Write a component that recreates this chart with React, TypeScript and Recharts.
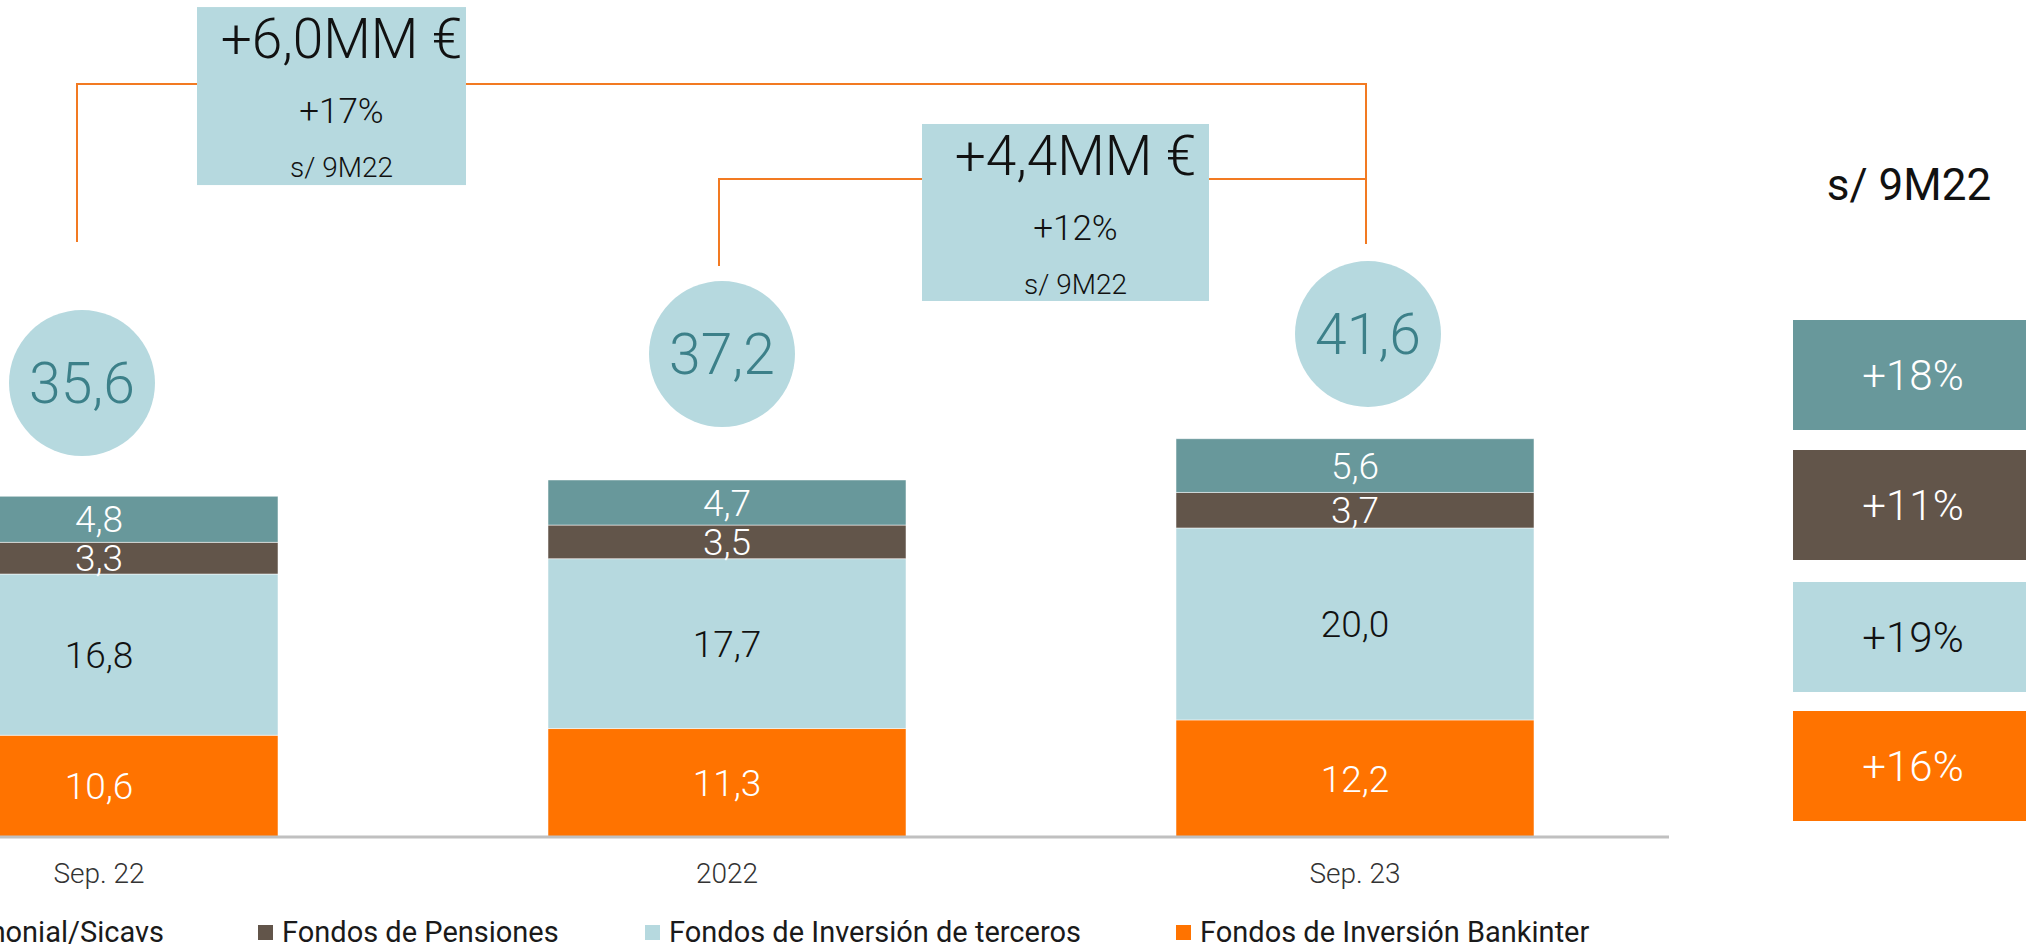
import { BarChart, Bar, XAxis, YAxis, LabelList, ReferenceLine, ReferenceDot } from "recharts"

// Patrimonio en fondos (miles de millones €)
const categories = ["Sep. 22", "2022", "Sep. 23"]
const fondosBankinter = [10.6, 11.3, 12.2]
const fondosTerceros = [16.8, 17.7, 20.0]
const fondosPensiones = [3.3, 3.5, 3.7]
const gestionSicavs = [4.8, 4.7, 5.6]
const totals = [35.6, 37.2, 41.6]

const seriesNames = [
  "Gestión Patrimonial/Sicavs",
  "Fondos de Pensiones",
  "Fondos de Inversión de terceros",
  "Fondos de Inversión Bankinter",
]
// same order as seriesNames (top of the stack first)
const growthLabels = ["+18%", "+11%", "+19%", "+16%"]
const deltaAmounts = ["+6,0MM €", "+4,4MM €"]
const deltaPercents = ["+17%", "+12%"]
const deltaBase = "s/ 9M22"

const TEAL = "#68989b"
const BROWN = "#62554a"
const LIGHT = "#b6d9df"
const ORANGE = "#ff7300"
const LINE = "#f27a22"
const FONT = "Roboto, 'Liberation Sans', Arial, sans-serif"
const WEIGHT = 300
const colors = [TEAL, BROWN, LIGHT, ORANGE]
const textOn = ["#ffffff", "#ffffff", "#111111", "#ffffff"]

const data = categories.map((name, i) => ({
  name,
  bankinter: fondosBankinter[i],
  terceros: fondosTerceros[i],
  pensiones: fondosPensiones[i],
  sicavs: gestionSicavs[i],
}))

const fmt = (v: any) => Number(v).toFixed(1).replace(".", ",")

// annotation layout (y in chart units, nudges in px)
const circleY = [47.3, 50.32, 52.41]
const circleDx = [-17, -5, 13]
const bracketY = [78.45, 68.56]
const bracketFrom = [0, 1]
const RIGHT_DX = 11
const brackets = [
  { leftDx: -22, leftDrop: 158, rightDrop: 160, boxL: 98, boxR: 367, boxTop: -77, boxBottom: 101 },
  { leftDx: -8, leftDrop: 87, rightDrop: 0, boxL: 195, boxR: 482, boxTop: -55, boxBottom: 122 },
]

const legendLeft = [0, 258, 645, 1176]
const panelTop = [320, 450, 582, 711]

function bracketShape(i: number) {
  return (p: any) => {
    const b = brackets[i]
    const x1 = Math.min(p.x1, p.x2)
    const x2 = Math.max(p.x1, p.x2)
    const y = p.y1
    const lx = x1 + b.leftDx
    const rx = x2 + RIGHT_DX
    const bl = x1 + b.boxL
    const br = x1 + b.boxR
    let d = `M${lx},${y + b.leftDrop}V${y}H${bl}M${br},${y}H${rx}`
    if (b.rightDrop) d += `V${y + b.rightDrop}`
    const top = y + b.boxTop
    const cx = (bl + br) / 2 + 10
    return (
      <g>
        <path d={d} fill="none" stroke={LINE} strokeWidth={2} />
        <rect x={bl} y={top} width={br - bl} height={b.boxBottom - b.boxTop} fill={LIGHT} />
        <g fontFamily={FONT} fontWeight={WEIGHT} fill="#111" textAnchor="middle">
          <text x={cx} y={top + 51} fontSize={55}>{deltaAmounts[i]}</text>
          <text x={cx} y={top + 116} fontSize={35}>{deltaPercents[i]}</text>
          <text x={cx} y={top + 170} fontSize={28}>{deltaBase}</text>
        </g>
      </g>
    )
  }
}

function totalShape(i: number) {
  return (p: any) => {
    const cx = p.cx + circleDx[i]
    return (
      <g>
        <circle cx={cx} cy={p.cy} r={73} fill={LIGHT} />
        <text x={cx} y={p.cy + 20} textAnchor="middle" fontSize={57} fontFamily={FONT} fontWeight={WEIGHT} fill="#3c8089">
          {fmt(totals[i])}
        </text>
      </g>
    )
  }
}

const labelStyle = { fontSize: 37, fontFamily: FONT, fontWeight: WEIGHT }

export default function App() {
  return (
    <div style={{ position: "absolute", left: 0, top: 0, width: 2026, height: 949, overflow: "hidden", background: "#fff", fontFamily: FONT, fontWeight: WEIGHT }}>
      <div style={{ position: "absolute", left: -215, top: 0 }}>
        <BarChart width={1884} height={949} data={data} margin={{ top: 2, right: 0, bottom: 52, left: 0 }} barSize={358}>
          <XAxis
            dataKey="name"
            height={60}
            axisLine={{ stroke: "#c0c0c0", strokeWidth: 3 }}
            tickLine={false}
            tickSize={0}
            tickMargin={26}
            interval={0}
            tick={{ fill: "#333", fontSize: 28, fontFamily: FONT, fontWeight: WEIGHT }}
          />
          <YAxis hide domain={[0, 87]} allowDataOverflow />
          <Bar dataKey="bankinter" stackId="a" fill={ORANGE} stroke="#fff" strokeOpacity={0.5} isAnimationActive={false}>
            <LabelList dataKey="bankinter" position="center" fill={textOn[3]} formatter={fmt} {...labelStyle} />
          </Bar>
          <Bar dataKey="terceros" stackId="a" fill={LIGHT} stroke="#fff" strokeOpacity={0.5} isAnimationActive={false}>
            <LabelList dataKey="terceros" position="center" fill={textOn[2]} formatter={fmt} {...labelStyle} />
          </Bar>
          <Bar dataKey="pensiones" stackId="a" fill={BROWN} stroke="#fff" strokeOpacity={0.5} isAnimationActive={false}>
            <LabelList dataKey="pensiones" position="center" fill={textOn[1]} formatter={fmt} {...labelStyle} />
          </Bar>
          <Bar dataKey="sicavs" stackId="a" fill={TEAL} stroke="#fff" strokeOpacity={0.5} isAnimationActive={false}>
            <LabelList dataKey="sicavs" position="center" fill={textOn[0]} formatter={fmt} {...labelStyle} />
          </Bar>

          {deltaAmounts.map((_, i) => (
            <ReferenceLine
              key={"br" + i}
              segment={[
                { x: categories[bracketFrom[i]], y: bracketY[i] },
                { x: categories[2], y: bracketY[i] },
              ]}
              stroke={LINE}
              strokeWidth={2}
              shape={bracketShape(i)}
            />
          ))}

          {totals.map((_, i) => (
            <ReferenceDot
              key={"tot" + i}
              x={categories[i]}
              y={circleY[i]}
              r={73}
              fill={LIGHT}
              stroke="none"
              shape={totalShape(i)}
            />
          ))}
        </BarChart>
      </div>

      {/* variation panel */}
      <div style={{ position: "absolute", left: 1809, top: 163, width: 200, textAlign: "center", fontSize: 44, lineHeight: "44px", fontWeight: 400, color: "#111" }}>
        {deltaBase}
      </div>
      {growthLabels.map((g, i) => (
        <div
          key={g + i}
          style={{
            position: "absolute",
            left: 1793,
            top: panelTop[i],
            width: 240,
            height: 110,
            background: colors[i],
            color: textOn[i],
            fontSize: 42,
            display: "flex",
            alignItems: "center",
            justifyContent: "center",
          }}
        >
          {g}
        </div>
      ))}

      {/* legend */}
      {seriesNames.map((name, i) => (
        <div
          key={name}
          style={{
            position: "absolute",
            top: 917,
            height: 30,
            display: "flex",
            alignItems: "center",
            whiteSpace: "nowrap",
            fontSize: 29,
            lineHeight: "30px",
            fontWeight: 400,
            color: "#1a1a1a",
            ...(i === 0 ? { right: 2026 - 164 } : { left: legendLeft[i] }),
          }}
        >
          <span style={{ display: "inline-block", width: 15, height: 15, background: colors[i], marginRight: 9 }} />
          {name}
        </div>
      ))}
    </div>
  )
}
